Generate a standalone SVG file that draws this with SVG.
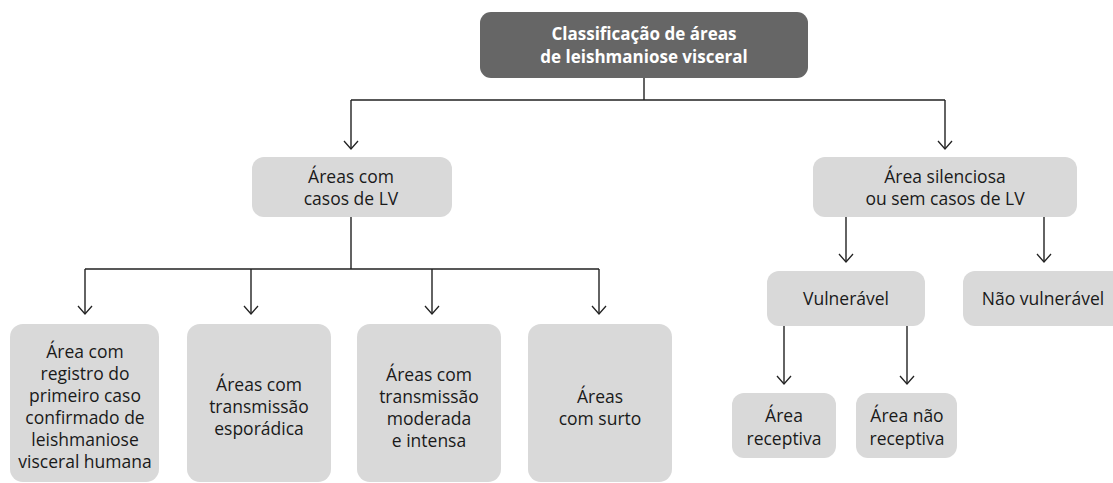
<svg xmlns="http://www.w3.org/2000/svg" width="1113" height="483" viewBox="0 0 1113 483">
<defs>
<style>
.box{fill:#d9d9d9}
.top{fill:#666666}
.t{font-family:"Open Sans","Noto Sans","Liberation Sans",sans-serif;font-size:17.5px;fill:#1a1a1a;text-anchor:middle}
.tw{font-family:"Open Sans","Noto Sans","Liberation Sans",sans-serif;font-size:17px;font-weight:bold;fill:#ffffff;text-anchor:middle}
.c{fill:none;stroke:#222;stroke-width:1.4}
</style>
<marker id="ah" markerWidth="12" markerHeight="16" viewBox="-10 -8 12 16" refX="0" refY="0" orient="auto" markerUnits="userSpaceOnUse">
<path d="M-8,-7 L0,0 L-8,7" fill="none" stroke="#222" stroke-width="1.3"/>
</marker>
</defs>
<rect width="1113" height="483" fill="#ffffff"/>
<g id="connectors" class="c">
<path d="M644,78 V100 M351,100 H945"/>
<path d="M351,100 V149" marker-end="url(#ah)"/>
<path d="M945,100 V149" marker-end="url(#ah)"/>
<path d="M351,217 V269 M85,269 H599"/>
<path d="M85,269 V314" marker-end="url(#ah)"/>
<path d="M251,269 V314" marker-end="url(#ah)"/>
<path d="M432,269 V314" marker-end="url(#ah)"/>
<path d="M599,269 V314" marker-end="url(#ah)"/>
<path d="M846,217 V262" marker-end="url(#ah)"/>
<path d="M1044,217 V262" marker-end="url(#ah)"/>
<path d="M784,326 V384" marker-end="url(#ah)"/>
<path d="M907,326 V384" marker-end="url(#ah)"/>
</g>
<g id="root">
<rect class="top" x="480" y="12" width="328" height="66" rx="11"/>
<text class="tw" x="644" y="40">Classificação de áreas</text>
<text class="tw" x="644" y="63">de leishmaniose visceral</text>
</g>
<g id="com-casos">
<rect class="box" x="252" y="157" width="200" height="60" rx="12"/>
<text class="t" x="351" y="183">Áreas com</text>
<text class="t" x="351" y="205">casos de LV</text>
</g>
<g id="silenciosa">
<rect class="box" x="813" y="157" width="264" height="60" rx="12"/>
<text class="t" x="945" y="183">Área silenciosa</text>
<text class="t" x="945" y="205">ou sem casos de LV</text>
</g>
<g id="primeiro-caso">
<rect class="box" x="10" y="324" width="149" height="158" rx="13"/>
<text class="t" x="85" y="358">Área com</text>
<text class="t" x="85" y="380">registro do</text>
<text class="t" x="85" y="402">primeiro caso</text>
<text class="t" x="85" y="424">confirmado de</text>
<text class="t" x="85" y="446">leishmaniose</text>
<text class="t" x="85" y="468">visceral humana</text>
</g>
<g id="esporadica">
<rect class="box" x="187" y="324" width="144" height="158" rx="13"/>
<text class="t" x="259" y="391">Áreas com</text>
<text class="t" x="259" y="413">transmissão</text>
<text class="t" x="259" y="435">esporádica</text>
</g>
<g id="moderada">
<rect class="box" x="357" y="324" width="144" height="158" rx="13"/>
<text class="t" x="429" y="381">Áreas com</text>
<text class="t" x="429" y="403">transmissão</text>
<text class="t" x="429" y="425">moderada</text>
<text class="t" x="429" y="447">e intensa</text>
</g>
<g id="surto">
<rect class="box" x="528" y="324" width="144" height="158" rx="13"/>
<text class="t" x="600" y="403">Áreas</text>
<text class="t" x="600" y="425">com surto</text>
</g>
<g id="vulneravel">
<rect class="box" x="767" y="271" width="158" height="55" rx="12"/>
<text class="t" x="846" y="305">Vulnerável</text>
</g>
<g id="nao-vulneravel">
<rect class="box" x="963" y="271" width="162" height="55" rx="12"/>
<text class="t" x="1043" y="305">Não vulnerável</text>
</g>
<g id="receptiva">
<rect class="box" x="732" y="393" width="104" height="65" rx="12"/>
<text class="t" x="784" y="422">Área</text>
<text class="t" x="784" y="445">receptiva</text>
</g>
<g id="nao-receptiva">
<rect class="box" x="856" y="393" width="101" height="65" rx="12"/>
<text class="t" x="907" y="422">Área não</text>
<text class="t" x="907" y="445">receptiva</text>
</g>
</svg>
